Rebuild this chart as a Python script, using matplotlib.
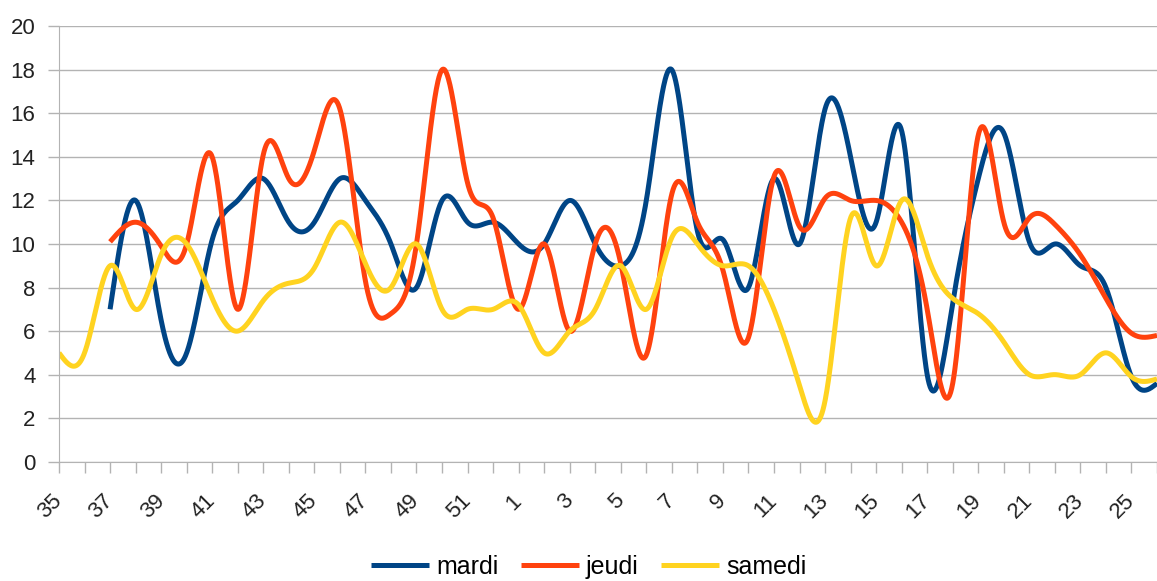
import numpy as np
import matplotlib.pyplot as plt

plt.rcParams['font.family'] = ['Liberation Sans', 'DejaVu Sans']

nan = np.nan
weeks = [str(w) for w in list(range(35, 53)) + list(range(1, 27))]

mardi = [nan, nan, 7, 12, 6.5, 5, 10.2, 12, 13, 11, 11, 13, 12, 10, 8, 12, 11, 11,
         10, 10, 12, 10, 9, 12, 18, 10.6, 10.2, 8, 13, 10, 16.2, 14, 11, 15.2, 4.0,
         7.3, 13, 15.1, 10.1, 10, 9, 8, 3.9, 3.6]
jeudi = [nan, nan, 10.1, 11, 9.9, 10, 14, 7, 14.1, 13, 14.3, 16.2, 8.3, 6.8, 10, 18,
         12.8, 11.2, 7, 10, 6, 10, 9.1, 4.9, 12.3, 11, 8.8, 5.7, 13.1, 10.8, 12.1,
         12, 12, 11, 7, 3.6, 15, 11, 11.2, 10.9, 9.5, 7.5, 5.9, 5.8]
samedi = [5, 5, 9, 7, 9.5, 10, 7.5, 6, 7.4, 8.2, 8.9, 11, 9.1, 8, 10, 7, 7, 7,
          7.2, 5, 6, 7, 9, 7, 10.3, 10, 9, 9, 7, 3.5, 2.8, 11.2, 9, 12, 9.5, 7.5, 6.8,
          5.5, 4, 4, 4, 5, 3.9, 3.8]

colors = {'mardi': '#004586', 'jeudi': '#ff420e', 'samedi': '#ffd320'}


def natural_spline(t, v, tt):
    # spline cubique naturelle
    n = len(t)
    h = np.diff(t)
    A = np.zeros((n, n))
    b = np.zeros(n)
    A[0, 0] = A[-1, -1] = 1
    for i in range(1, n - 1):
        A[i, i - 1] = h[i - 1]
        A[i, i] = 2 * (h[i - 1] + h[i])
        A[i, i + 1] = h[i]
        b[i] = 6 * ((v[i + 1] - v[i]) / h[i] - (v[i] - v[i - 1]) / h[i - 1])
    M = np.linalg.solve(A, b)
    idx = np.clip(np.searchsorted(t, tt, side='right') - 1, 0, n - 2)
    t0, t1 = t[idx], t[idx + 1]
    hh = t1 - t0
    a = (t1 - tt) / hh
    c = (tt - t0) / hh
    return a * v[idx] + c * v[idx + 1] + ((a ** 3 - a) * M[idx] + (c ** 3 - c) * M[idx + 1]) * hh ** 2 / 6


fig = plt.figure(figsize=(11.57, 5.81), dpi=100)
ax = fig.add_axes([59 / 1157, 119.3 / 581, 1098 / 1157, 435.4 / 581])
ax.set_xlim(0, 42.58)
ax.set_ylim(0, 20)

x = np.arange(len(weeks), dtype=float)
for name, vals in [('mardi', mardi), ('jeudi', jeudi), ('samedi', samedi)]:
    vals = np.array(vals, dtype=float)
    ok = ~np.isnan(vals)
    xs = np.linspace(x[ok][0], x[ok][-1], 2000)
    ax.plot(xs, natural_spline(x[ok], vals[ok], xs), color=colors[name], lw=3.6,
            label=name, solid_capstyle='butt')

ax.set_yticks(range(0, 21, 2))
ax.set_xticks(x)
ax.set_xticklabels([w if i % 2 == 0 else '' for i, w in enumerate(weeks)],
                   rotation=45, ha='right', va='center', rotation_mode='anchor')
ax.tick_params(axis='both', colors='#b3b3b3', labelcolor='#222222', labelsize=16,
               length=8, width=1)
ax.tick_params(axis='y', pad=9)
ax.tick_params(axis='x', pad=18)
ax.grid(axis='y', color='#b3b3b3', lw=1)
ax.set_axisbelow(True)
for s in ['top', 'right']:
    ax.spines[s].set_visible(False)
for s in ['left', 'bottom']:
    ax.spines[s].set_color('#b3b3b3')

fig.legend(loc='center', bbox_to_anchor=(0.509, 0.024), ncol=3, frameon=False,
           fontsize=18, handlelength=2.3, handletextpad=0.3, columnspacing=0.9)

fig.savefig('out.png', dpi=100)
